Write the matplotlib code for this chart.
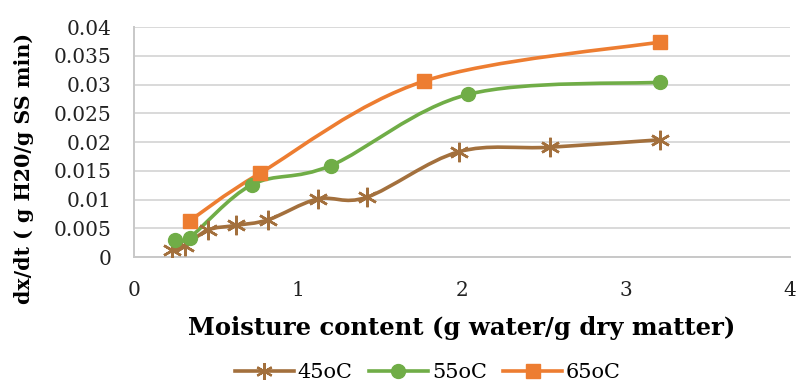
import numpy as np
import matplotlib
matplotlib.use("Agg")
import matplotlib.pyplot as plt
from matplotlib.path import Path
from matplotlib.patches import PathPatch
from matplotlib.lines import Line2D

# values
x_45 = [0.23, 0.31, 0.45, 0.62, 0.82, 1.12, 1.42, 1.98, 2.54, 3.21]
y_45 = [0.0012, 0.0019, 0.0047, 0.0055, 0.0065, 0.0101, 0.0104, 0.0183, 0.0191, 0.0204]
x_55 = [0.25, 0.34, 0.72, 1.20, 2.04, 3.21]
y_55 = [0.0030, 0.0034, 0.0126, 0.0159, 0.0283, 0.0304]
x_65 = [0.34, 0.77, 1.77, 3.21]
y_65 = [0.0063, 0.0146, 0.0306, 0.0374]

labels = ["45oC", "55oC", "65oC"]
colors = ["#A3703D", "#70AD47", "#ED7D31"]
markers = [(6, 2, 0), "o", "s"]

plt.rcParams['font.family'] = ['DejaVu Serif']


def smooth_path(xs, ys):
    # Excel-style smoothed line: cubic bezier through every point
    pts = np.column_stack([xs, ys])
    n = len(pts)
    verts = [pts[0]]
    codes = [Path.MOVETO]
    for i in range(n - 1):
        p0 = pts[i - 1] if i > 0 else pts[i]
        p1 = pts[i]
        p2 = pts[i + 1]
        p3 = pts[i + 2] if i + 2 < n else pts[i + 1]
        c1 = p1 + (p2 - p0) / 6
        c2 = p2 - (p3 - p1) / 6
        verts += [c1, c2, p2]
        codes += [Path.CURVE4] * 3
    return Path(verts, codes)


fig = plt.figure(figsize=(7.97, 3.86), dpi=100)
ax = fig.add_axes([0.168, 0.334, 0.823, 0.596])

series = [(x_45, y_45), (x_55, y_55), (x_65, y_65)]
for (xs, ys), c, m in zip(series, colors, markers):
    ax.add_patch(PathPatch(smooth_path(xs, ys), facecolor='none', edgecolor=c,
                           lw=2.6, zorder=3, capstyle='round'))
    if m == (6, 2, 0):
        ax.plot(xs, ys, ls='none', marker=m, ms=14, mew=1.8, color=c, zorder=4)
    else:
        ax.plot(xs, ys, ls='none', marker=m, ms=10, color=c, mec=c, zorder=4)

ax.set_xlim(0, 4)
ax.set_ylim(0, 0.04)
ax.set_xticks([0, 1, 2, 3, 4])
ax.set_yticks(np.arange(0, 0.0401, 0.005))
ax.set_yticklabels(["0", "0.005", "0.01", "0.015", "0.02", "0.025", "0.03", "0.035", "0.04"])
ax.tick_params(axis='both', length=0, labelsize=14.5, colors='#222222')
ax.tick_params(axis='y', pad=16)
ax.tick_params(axis='x', pad=17)
ax.grid(axis='y', color='#D9D9D9', lw=1.4)
ax.set_axisbelow(True)
for s in ['top', 'right']:
    ax.spines[s].set_visible(False)
for s in ['left', 'bottom']:
    ax.spines[s].set_color('#C8C8C8')
    ax.spines[s].set_linewidth(1.4)

ax.set_xlabel("Moisture content (g water/g dry matter)", fontsize=17.5,
              fontweight='bold', labelpad=12)
ax.set_ylabel("dx/dt ( g H20/g SS min)", fontsize=14.8, fontweight='bold')
ax.yaxis.set_label_coords(-0.152, 0.385)

handles = []
for c, m, lab in zip(colors, markers, labels):
    if m == (6, 2, 0):
        h = Line2D([], [], color=c, lw=2.6, marker=m, ms=12, mew=1.6)
    else:
        h = Line2D([], [], color=c, lw=2.6, marker=m, ms=10, mec=c)
    handles.append(h)
fig.legend(handles, labels, loc='center', bbox_to_anchor=(0.537, 0.035), ncol=3,
           frameon=False, fontsize=15, handlelength=2.8, columnspacing=0.8,
           handletextpad=0.2)

fig.savefig("out.png", dpi=100, facecolor='white')
